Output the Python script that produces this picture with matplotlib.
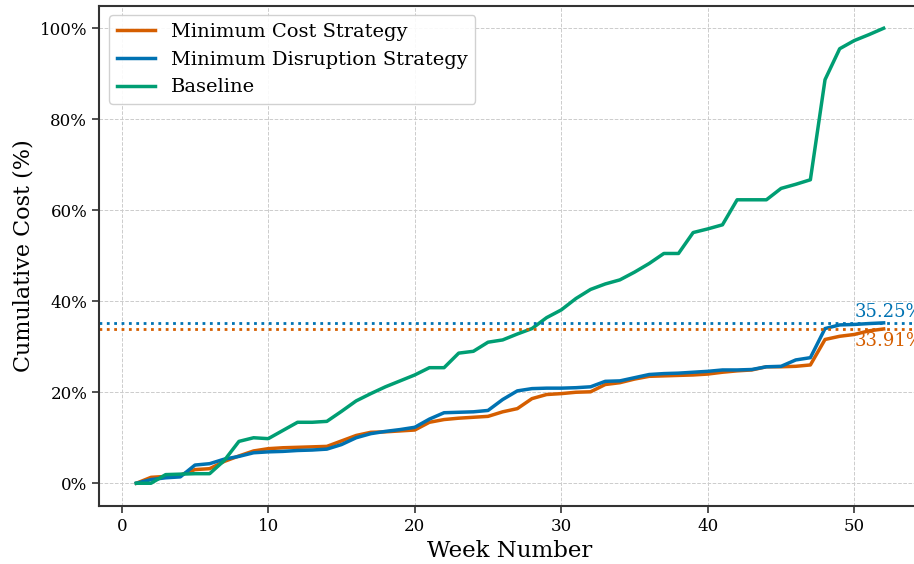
import matplotlib
matplotlib.use("Agg")
import matplotlib.pyplot as plt
from matplotlib.ticker import PercentFormatter

plt.rcParams['font.family'] = ['DejaVu Serif']

weeks = list(range(1, 53))

# cumulative cost, % of baseline total
min_cost = [0.0, 1.3, 1.5, 1.8, 3.0, 3.2, 4.8, 6.0, 7.1, 7.6,
            7.8, 7.9, 8.0, 8.1, 9.3, 10.5, 11.2, 11.3, 11.5, 11.7,
            13.4, 14.0, 14.3, 14.5, 14.7, 15.7, 16.4, 18.6, 19.5, 19.7,
            20.0, 20.1, 21.7, 22.1, 22.9, 23.5, 23.6, 23.7, 23.8, 24.0,
            24.4, 24.7, 24.9, 25.6, 25.6, 25.7, 26.0, 31.6, 32.3, 32.7,
            33.5, 33.91]
min_disruption = [0.0, 0.8, 1.2, 1.4, 4.0, 4.3, 5.3, 5.9, 6.7, 6.9,
                  7.0, 7.2, 7.3, 7.5, 8.5, 10.0, 10.9, 11.4, 11.8, 12.3,
                  14.1, 15.5, 15.6, 15.7, 16.0, 18.4, 20.3, 20.8, 20.9, 20.9,
                  21.0, 21.2, 22.4, 22.5, 23.2, 23.9, 24.1, 24.2, 24.4, 24.6,
                  24.9, 24.9, 25.0, 25.6, 25.7, 27.1, 27.6, 34.0, 34.8, 34.9,
                  35.1, 35.25]
baseline = [0.0, 0.0, 1.9, 2.0, 2.1, 2.1, 5.0, 9.2, 10.0, 9.8,
            11.6, 13.4, 13.4, 13.6, 15.8, 18.1, 19.7, 21.2, 22.5, 23.8,
            25.4, 25.4, 28.6, 29.0, 31.0, 31.5, 32.8, 34.0, 36.4, 38.1,
            40.6, 42.6, 43.8, 44.7, 46.4, 48.3, 50.5, 50.5, 55.1, 55.9,
            56.8, 62.3, 62.3, 62.3, 64.8, 65.7, 66.7, 88.7, 95.5, 97.3,
            98.6, 100.0]

c_cost = '#D55E00'
c_dis = '#0072B2'
c_base = '#009E73'

fig = plt.figure(figsize=(9.14, 5.64), dpi=100)
ax = fig.add_axes([99 / 914, 58 / 564, 822 / 914, 500.5 / 564])

ax.plot(weeks, min_cost, color=c_cost, lw=2.5, label='Minimum Cost Strategy')
ax.plot(weeks, min_disruption, color=c_dis, lw=2.5, label='Minimum Disruption Strategy')
ax.plot(weeks, baseline, color=c_base, lw=2.5, label='Baseline')

# final totals as reference lines
ax.axhline(min_disruption[-1], color=c_dis, ls=':', lw=2)
ax.axhline(min_cost[-1], color=c_cost, ls=':', lw=2)
ax.text(50, min_disruption[-1] + 0.3, f'{min_disruption[-1]:.2f}%', color=c_dis,
        fontsize=13, ha='left', va='bottom')
ax.text(50, min_cost[-1] - 0.6, f'{min_cost[-1]:.2f}%', color=c_cost,
        fontsize=13, ha='left', va='top')

ax.yaxis.set_major_formatter(PercentFormatter(decimals=0))
ax.set_xlabel('Week Number', fontsize=16.5)
ax.set_ylabel('Cumulative Cost (%)', fontsize=16)
ax.tick_params(labelsize=12, width=1.2, length=5, color='#333333')
ax.grid(True, ls='--', color='#cccccc', lw=0.7)
for s in ax.spines.values():
    s.set_color('#333333')
    s.set_linewidth(1.5)

ax.legend(loc='upper left', fontsize=14, framealpha=0.9, edgecolor='#cccccc')

fig.savefig('out.png', dpi=100)
